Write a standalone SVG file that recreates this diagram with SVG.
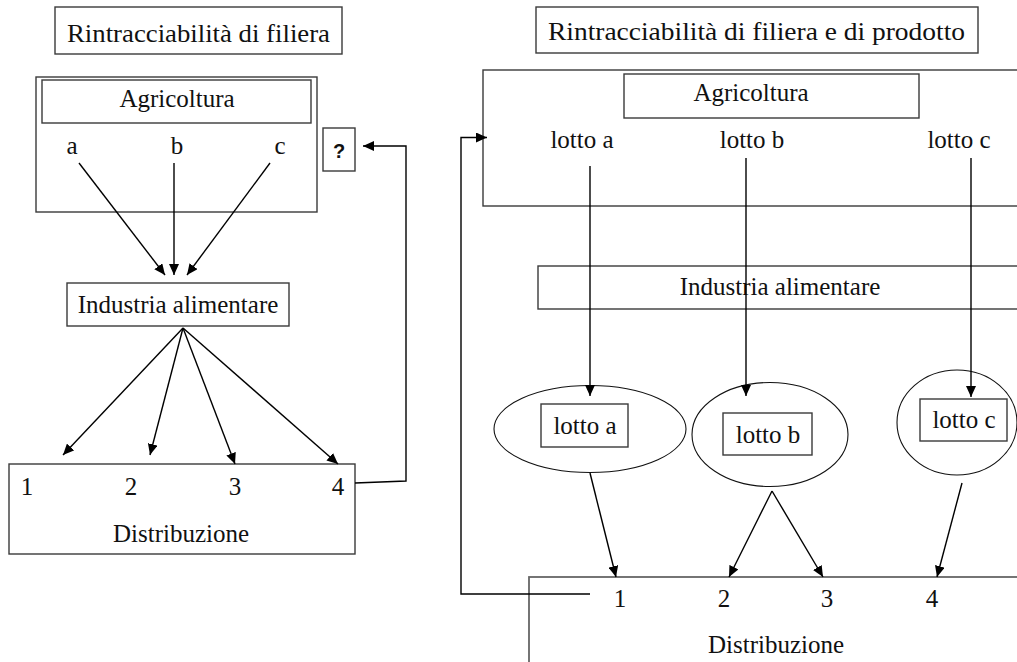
<svg xmlns="http://www.w3.org/2000/svg" width="1017" height="662" viewBox="0 0 1017 662">
  <defs>
    <marker id="arr" markerUnits="userSpaceOnUse" markerWidth="12" markerHeight="10" refX="11" refY="5" orient="auto">
      <path d="M0,0 L11,5 L0,10 Z" fill="#000"/>
    </marker>
    <style>
      .box { fill: #fff; stroke: #3a3a3a; stroke-width: 1.4; }
      .ell { fill: #fff; stroke: #111; stroke-width: 1.1; }
      .t { font-family: "Liberation Serif", "Times New Roman", serif; font-size: 25px; fill: #111; }
      .tt { font-family: "Liberation Serif", "Times New Roman", serif; font-size: 26px; fill: #111; }
      .c { text-anchor: middle; }
      .con { fill: none; stroke: #000; stroke-width: 1.4; }
      .arr { marker-end: url(#arr); }
    </style>
  </defs>
  <rect width="1017" height="662" fill="#fff"/>

  <!-- LEFT PANEL -->
  <g id="title-left">
    <rect class="box" x="55" y="7" width="287" height="47"/>
    <text class="tt" x="67" y="42" textLength="263" lengthAdjust="spacingAndGlyphs">Rintracciabilità di filiera</text>
  </g>
  <g id="agricoltura-left">
    <rect class="box" x="36" y="77" width="281" height="135"/>
    <rect class="box" x="42" y="80" width="269" height="43"/>
    <text class="t c" x="177" y="107">Agricoltura</text>
    <text class="t c" x="72" y="154">a</text>
    <text class="t c" x="177" y="154">b</text>
    <text class="t c" x="280" y="154">c</text>
  </g>
  <g id="question">
    <rect class="box" x="323" y="128" width="32" height="43"/>
    <text x="339" y="158" text-anchor="middle" style="font-family:'Liberation Sans','DejaVu Sans',sans-serif;font-weight:bold;font-size:20px;fill:#111">?</text>
  </g>
  <g id="industria-left">
    <rect class="box" x="67" y="283" width="222" height="43"/>
    <text class="t c" x="178" y="313">Industria alimentare</text>
  </g>
  <g id="distribuzione-left">
    <rect class="box" x="9" y="464" width="346" height="90"/>
    <text class="t c" x="27" y="495">1</text>
    <text class="t c" x="131" y="495">2</text>
    <text class="t c" x="235" y="495">3</text>
    <text class="t c" x="338" y="495">4</text>
    <text class="t c" x="181" y="542">Distribuzione</text>
  </g>

  <!-- RIGHT PANEL -->
  <g id="title-right">
    <rect class="box" x="536" y="7" width="442" height="46"/>
    <text class="tt" x="548" y="40" textLength="417" lengthAdjust="spacingAndGlyphs">Rintracciabilità di filiera e di prodotto</text>
  </g>
  <g id="agricoltura-right">
    <rect class="box" x="483" y="70" width="560" height="136"/>
    <rect class="box" x="624" y="74" width="295" height="44"/>
    <text class="t c" x="751" y="101">Agricoltura</text>
    <text class="t c" x="582" y="148">lotto a</text>
    <text class="t c" x="752" y="148">lotto b</text>
    <text class="t c" x="959" y="148">lotto c</text>
  </g>
  <g id="industria-right">
    <rect class="box" x="538" y="266" width="500" height="43"/>
    <text class="t c" x="780" y="295">Industria alimentare</text>
  </g>
  <g id="lotto-a">
    <ellipse class="ell" cx="590" cy="429" rx="96" ry="43.5"/>
    <rect class="box" x="541" y="404" width="87" height="43"/>
    <text class="t c" x="585" y="434">lotto a</text>
  </g>
  <g id="lotto-b">
    <ellipse class="ell" cx="770" cy="434.5" rx="78" ry="52"/>
    <rect class="box" x="723" y="413" width="89" height="42"/>
    <text class="t c" x="768" y="443">lotto b</text>
  </g>
  <g id="lotto-c">
    <ellipse class="ell" cx="957" cy="422.5" rx="60" ry="52.5"/>
    <rect class="box" x="920" y="399" width="87" height="42"/>
    <text class="t c" x="964" y="428">lotto c</text>
  </g>
  <g id="distribuzione-right">
    <rect class="box" x="529" y="577" width="520" height="120" style="stroke:#666;stroke-width:1.8"/>
    <text class="t c" x="620" y="607">1</text>
    <text class="t c" x="724" y="607">2</text>
    <text class="t c" x="827" y="607">3</text>
    <text class="t c" x="932" y="607">4</text>
    <text class="t c" x="776" y="653">Distribuzione</text>
  </g>

  <!-- CONNECTORS -->
  <g id="connectors">
    <line class="con arr" x1="79" y1="163" x2="165" y2="275"/>
    <line class="con arr" x1="174" y1="163" x2="174" y2="275"/>
    <line class="con arr" x1="270" y1="163" x2="187" y2="275"/>
    <line class="con arr" x1="183" y1="328" x2="63" y2="455"/>
    <line class="con arr" x1="183" y1="328" x2="150" y2="455"/>
    <line class="con arr" x1="183" y1="328" x2="235" y2="464"/>
    <line class="con arr" x1="183" y1="328" x2="338" y2="464"/>
    <polyline class="con arr" points="355,483 406,481 406,146 363,146"/>

    <polyline class="con arr" points="590,594 461,594 461,137.5 487,137.5"/>
    <line class="con arr" x1="590" y1="166" x2="590" y2="396"/>
    <line class="con arr" x1="746" y1="158" x2="746" y2="396"/>
    <line class="con arr" x1="971" y1="158" x2="971" y2="397"/>
    <line class="con arr" x1="590" y1="473" x2="616" y2="577"/>
    <line class="con arr" x1="772" y1="491" x2="729" y2="577"/>
    <line class="con arr" x1="772" y1="491" x2="823" y2="577"/>
    <line class="con arr" x1="962" y1="483" x2="937" y2="577"/>
  </g>
</svg>
